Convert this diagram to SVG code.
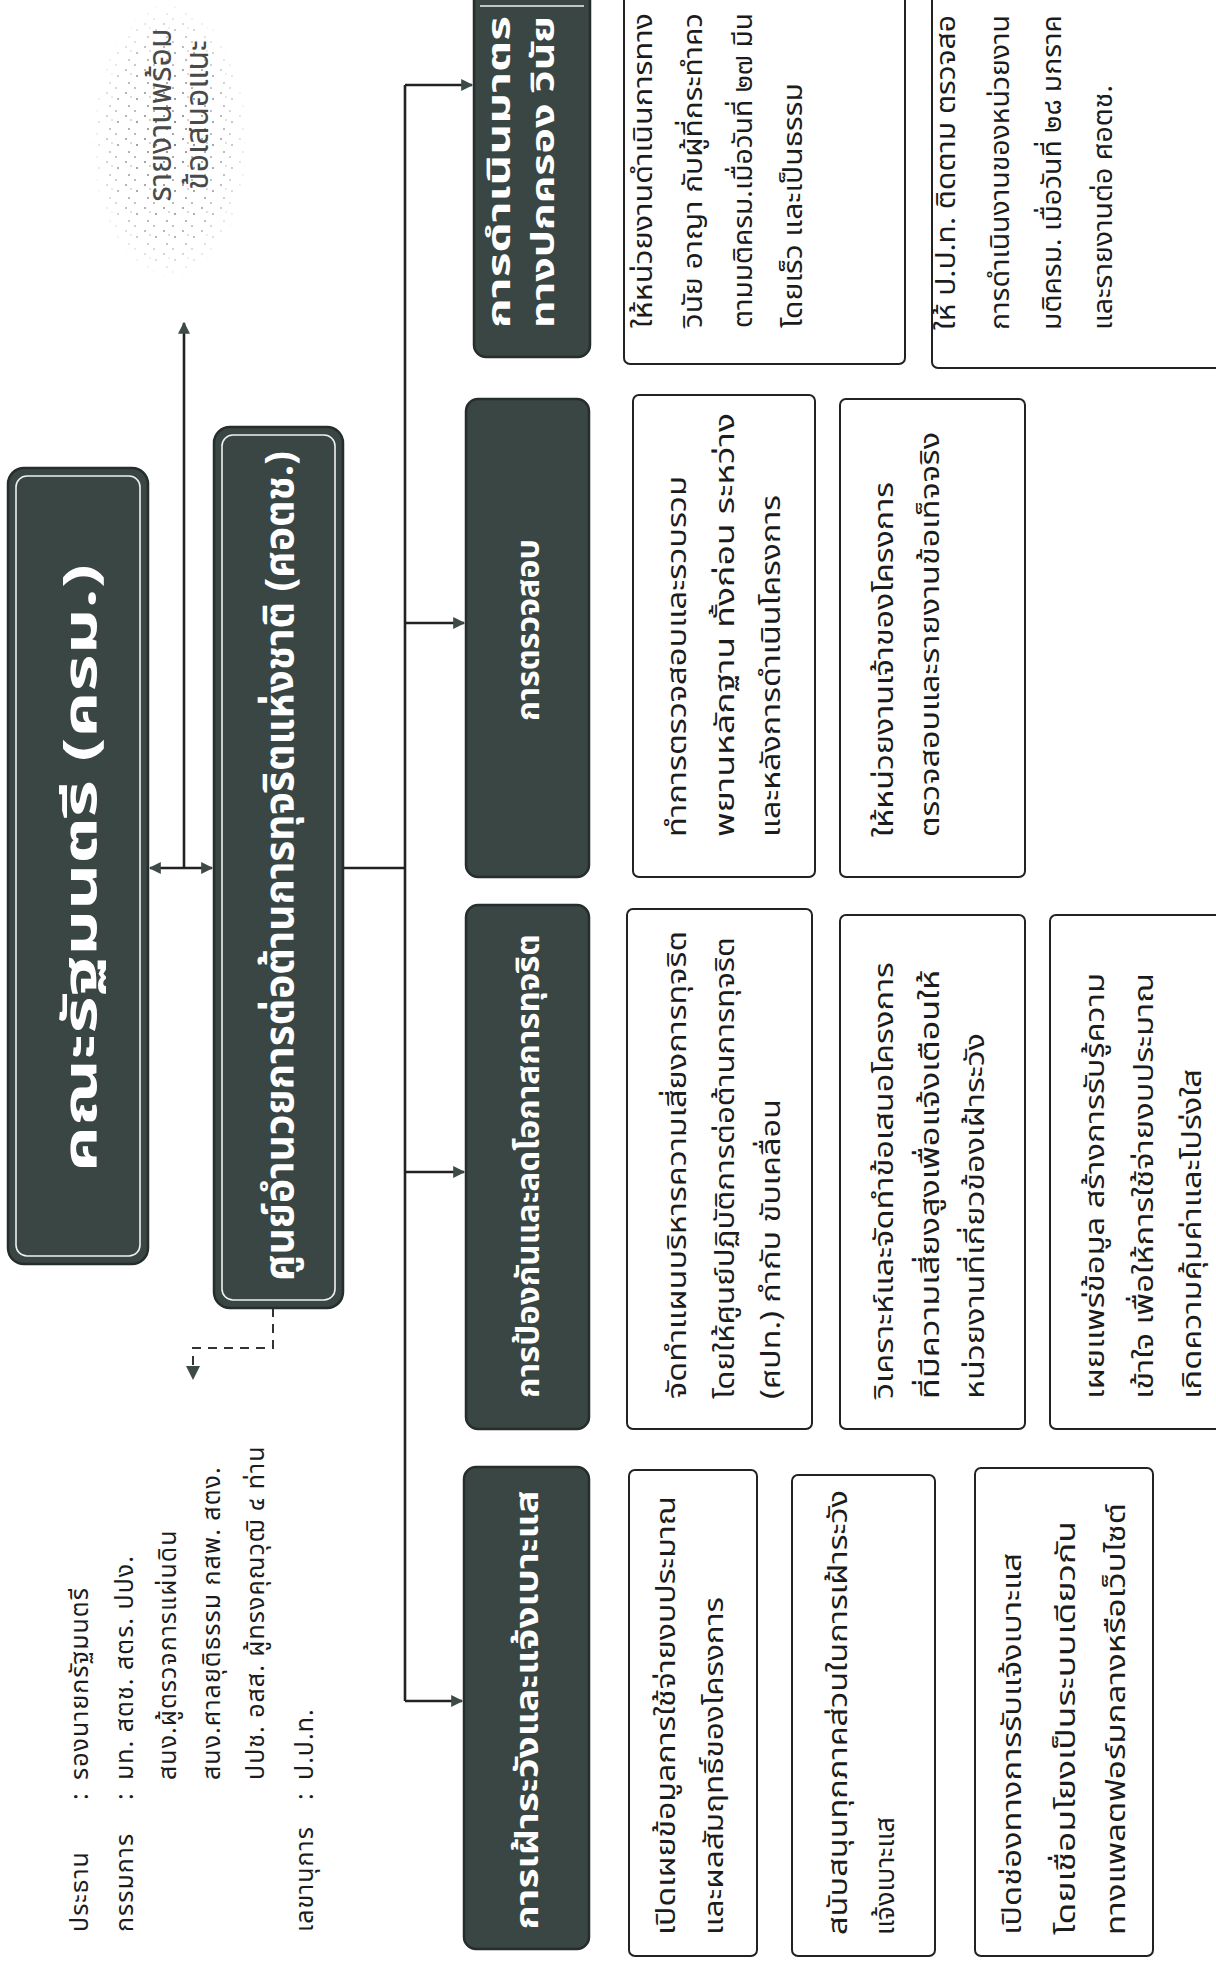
<svg xmlns="http://www.w3.org/2000/svg" width="1216" height="1965" viewBox="0 0 1216 1965">
<style>
.t{font-family:'Noto Sans Thai','Noto Sans','DejaVu Sans',sans-serif;font-size:27px;fill:#1c1c1c}
.l{font-size:25px;letter-spacing:1px}
.h{font-size:32px;font-weight:bold;fill:#ffffff}
.big{font-size:46px;font-weight:bold;fill:#ffffff}
.mid{font-size:40px;font-weight:bold;fill:#ffffff}
.sp{font-size:32px;fill:#4a4a4a}
.dark{fill:#3a4643;stroke:#252e2c;stroke-width:2.5}
.inner{fill:none;stroke:#eef2ee;stroke-width:1.6}
.wbox{fill:#ffffff;stroke:#222;stroke-width:2}
.ln{fill:none;stroke:#222;stroke-width:2.6}
.dash{fill:none;stroke:#333;stroke-width:2;stroke-dasharray:9 7}
</style>
<defs>
<marker id="ah" viewBox="0 0 10 10" refX="9" refY="5" markerWidth="14" markerHeight="12" markerUnits="userSpaceOnUse" orient="auto-start-reverse">
<path d="M0,0 L10,5 L0,10 z" fill="#3d4a47"/>
</marker>
<pattern id="dots" width="23" height="19" patternUnits="userSpaceOnUse">
<circle cx="3" cy="4" r="1.1" fill="#666"/>
<circle cx="14" cy="2" r="0.9" fill="#777"/>
<circle cx="9" cy="12" r="1" fill="#666"/>
<circle cx="19" cy="15" r="1.1" fill="#777"/>
<circle cx="5" cy="17" r="0.8" fill="#888"/>
</pattern>
<radialGradient id="fade">
<stop offset="0" stop-color="#fff" stop-opacity="1"/>
<stop offset="0.7" stop-color="#fff" stop-opacity="0.6"/>
<stop offset="1" stop-color="#fff" stop-opacity="0"/>
</radialGradient>
<mask id="cloud">
<ellipse cx="1824" cy="170" rx="140" ry="80" fill="url(#fade)"/>
</mask>
</defs>
<rect width="1216" height="1965" fill="#ffffff"/>
<g transform="translate(0,1965) rotate(-90)">

<g id="speckle">
<rect x="1680" y="88" width="285" height="165" fill="url(#dots)" mask="url(#cloud)"/>
<text class="t sp" x="1850" y="171" text-anchor="middle">รายงานพร้อม</text>
<text class="t sp" x="1850" y="208" text-anchor="middle">ข้อเสนอแนะ</text>
</g>

<g id="connectors">
<line class="ln" x1="1097" y1="150" x2="1097" y2="212" marker-start="url(#ah)" marker-end="url(#ah)"/>
<line class="ln" x1="1097" y1="184" x2="1642" y2="184" marker-end="url(#ah)"/>
<polyline class="dash" points="657,273 617,273 617,193 590,193"/>
<path d="M599,186 L585,193 L599,200 z" fill="#3d4a47"/>
<line class="ln" x1="1097" y1="343" x2="1097" y2="405"/>
<line class="ln" x1="264" y1="405" x2="1880" y2="405"/>
<line class="ln" x1="1880" y1="405" x2="1880" y2="472" marker-end="url(#ah)"/>
<line class="ln" x1="1342" y1="405" x2="1342" y2="464" marker-end="url(#ah)"/>
<line class="ln" x1="793" y1="405" x2="793" y2="464" marker-end="url(#ah)"/>
<line class="ln" x1="264" y1="405" x2="264" y2="462" marker-end="url(#ah)"/>
</g>

<g id="members">
<text class="t l" x="33" y="88">ประธาน</text>
<text class="t l" x="165" y="88">:</text>
<text class="t l" x="185" y="88">รองนายกรัฐมนตรี</text>
<text class="t l" x="33" y="133">กรรมการ</text>
<text class="t l" x="165" y="133">:</text>
<text class="t l" x="185" y="133">มท. สตช. สตร. ปปง.</text>
<text class="t l" x="185" y="176">สนง.ผู้ตรวจการแผ่นดิน</text>
<text class="t l" x="185" y="220">สนง.ศาลยุติธรรม กสพ. สตง.</text>
<text class="t l" x="185" y="264">ปปช. อสส. ผู้ทรงคุณวุฒิ ๔ ท่าน</text>
<text class="t l" x="33" y="313">เลขานุการ</text>
<text class="t l" x="165" y="313">:</text>
<text class="t l" x="185" y="313">ป.ป.ท.</text>
</g>

<g id="node-cabinet">
<rect class="dark" x="701" y="8" width="796" height="140" rx="16"/>
<rect class="inner" x="709" y="16" width="780" height="124" rx="11"/>
<text class="t big" x="1097" y="96" text-anchor="middle" textLength="608" lengthAdjust="spacingAndGlyphs">คณะรัฐมนตรี (ครม.)</text>
</g>

<g id="node-center">
<rect class="dark" x="657" y="214" width="881" height="129" rx="16"/>
<rect class="inner" x="665" y="222" width="865" height="113" rx="11"/>
<text class="t mid" x="1099" y="293" text-anchor="middle" textLength="830" lengthAdjust="spacingAndGlyphs">ศูนย์อำนวยการต่อต้านการทุจริตแห่งชาติ (ศอตช.)</text>
</g>

<g id="node-measures">
<rect class="dark" x="1608" y="474" width="380" height="116" rx="12"/>
<line x1="1959" y1="480" x2="1959" y2="584" stroke="#eef2ee" stroke-width="1.6"/>
<text class="t h" x="1637" y="510" textLength="312" lengthAdjust="spacingAndGlyphs">การดำเนินมาตร</text>
<text class="t h" x="1637" y="554" textLength="312" lengthAdjust="spacingAndGlyphs">ทางปกครอง วินัย</text>
</g>

<g id="node-inspect">
<rect class="dark" x="1088" y="466" width="478" height="123" rx="12"/>
<text class="t h" x="1335" y="539" text-anchor="middle" textLength="182" lengthAdjust="spacingAndGlyphs">การตรวจสอบ</text>
</g>

<g id="node-prevent">
<rect class="dark" x="536" y="466" width="524" height="123" rx="12"/>
<text class="t h" x="799" y="539" text-anchor="middle" textLength="464" lengthAdjust="spacingAndGlyphs">การป้องกันและลดโอกาสการทุจริต</text>
</g>

<g id="node-watch">
<rect class="dark" x="16" y="464" width="482" height="125" rx="12"/>
<text class="t h" x="255" y="538" text-anchor="middle" textLength="439" lengthAdjust="spacingAndGlyphs">การเฝ้าระวังและแจ้งเบาะแส</text>
</g>

<g id="box-a1">
<rect class="wbox" x="1601" y="624" width="380" height="281" rx="6"/>
<text class="t" x="1637" y="652" textLength="315" lengthAdjust="spacingAndGlyphs">ให้หน่วยงานดำเนินการทาง</text>
<text class="t" x="1637" y="702" textLength="315" lengthAdjust="spacingAndGlyphs">วินัย อาญา กับผู้ที่กระทำคว</text>
<text class="t" x="1637" y="752" textLength="315" lengthAdjust="spacingAndGlyphs">ตามมติครม.เมื่อวันที่ ๒๗ มีน</text>
<text class="t" x="1637" y="802" textLength="245" lengthAdjust="spacingAndGlyphs">โดยเร็ว และเป็นธรรม</text>
</g>

<g id="box-a2">
<rect class="wbox" x="1597" y="932" width="384" height="300" rx="6"/>
<text class="t" x="1635" y="955" textLength="315" lengthAdjust="spacingAndGlyphs">ให้ ป.ป.ท. ติดตาม ตรวจสอ</text>
<text class="t" x="1635" y="1009" textLength="315" lengthAdjust="spacingAndGlyphs">การดำเนินงานของหน่วยงาน</text>
<text class="t" x="1635" y="1061" textLength="315" lengthAdjust="spacingAndGlyphs">มติครม. เมื่อวันที่ ๒๘ มกราค</text>
<text class="t" x="1635" y="1112" textLength="245" lengthAdjust="spacingAndGlyphs">และรายงานต่อ ศอตช.</text>
</g>

<g id="box-b1">
<rect class="wbox" x="1088" y="633" width="482" height="182" rx="6"/>
<text class="t" x="1128" y="686" textLength="361" lengthAdjust="spacingAndGlyphs">ทำการตรวจสอบและรวบรวม</text>
<text class="t" x="1128" y="734" textLength="424" lengthAdjust="spacingAndGlyphs">พยานหลักฐาน ทั้งก่อน ระหว่าง</text>
<text class="t" x="1128" y="780" textLength="342" lengthAdjust="spacingAndGlyphs">และหลังการดำเนินโครงการ</text>
</g>

<g id="box-b2">
<rect class="wbox" x="1088" y="840" width="478" height="185" rx="6"/>
<text class="t" x="1128" y="893" textLength="355" lengthAdjust="spacingAndGlyphs">ให้หน่วยงานเจ้าของโครงการ</text>
<text class="t" x="1128" y="939" textLength="405" lengthAdjust="spacingAndGlyphs">ตรวจสอบและรายงานข้อเท็จจริง</text>
</g>

<g id="box-c1">
<rect class="wbox" x="536" y="627" width="520" height="185" rx="6"/>
<text class="t" x="566" y="686" textLength="468" lengthAdjust="spacingAndGlyphs">จัดทำแผนบริหารความเสี่ยงการทุจริต</text>
<text class="t" x="566" y="734" textLength="462" lengthAdjust="spacingAndGlyphs">โดยให้ศูนย์ปฏิบัติการต่อต้านการทุจริต</text>
<text class="t" x="566" y="780" textLength="300" lengthAdjust="spacingAndGlyphs">(ศปท.) กำกับ ขับเคลื่อน</text>
</g>

<g id="box-c2">
<rect class="wbox" x="536" y="840" width="514" height="185" rx="6"/>
<text class="t" x="566" y="893" textLength="437" lengthAdjust="spacingAndGlyphs">วิเคราะห์และจัดทำข้อเสนอโครงการ</text>
<text class="t" x="566" y="939" textLength="429" lengthAdjust="spacingAndGlyphs">ที่มีความเสี่ยงสูงเพื่อแจ้งเตือนให้</text>
<text class="t" x="566" y="984" textLength="366" lengthAdjust="spacingAndGlyphs">หน่วยงานที่เกี่ยวข้องเฝ้าระวัง</text>
</g>

<g id="box-c3">
<rect class="wbox" x="536" y="1050" width="514" height="190" rx="6"/>
<text class="t" x="566" y="1104" textLength="426" lengthAdjust="spacingAndGlyphs">เผยแพร่ข้อมูล สร้างการรับรู้ความ</text>
<text class="t" x="566" y="1153" textLength="426" lengthAdjust="spacingAndGlyphs">เข้าใจ เพื่อให้การใช้จ่ายงบประมาณ</text>
<text class="t" x="566" y="1201" textLength="330" lengthAdjust="spacingAndGlyphs">เกิดความคุ้มค่าและโปร่งใส</text>
</g>

<g id="box-d1">
<rect class="wbox" x="9" y="629" width="486" height="128" rx="6"/>
<text class="t" x="30" y="675" textLength="439" lengthAdjust="spacingAndGlyphs">เปิดเผยข้อมูลการใช้จ่ายงบประมาณ</text>
<text class="t" x="30" y="723" textLength="338" lengthAdjust="spacingAndGlyphs">และผลสัมฤทธิ์ของโครงการ</text>
</g>

<g id="box-d2">
<rect class="wbox" x="9" y="792" width="481" height="143" rx="6"/>
<text class="t" x="30" y="847" textLength="445" lengthAdjust="spacingAndGlyphs">สนับสนุนทุกภาคส่วนในการเฝ้าระวัง</text>
<text class="t" x="30" y="894">แจ้งเบาะแส</text>
</g>

<g id="box-d3">
<rect class="wbox" x="9" y="975" width="488" height="178" rx="6"/>
<text class="t" x="30" y="1021" textLength="382" lengthAdjust="spacingAndGlyphs">เปิดช่องทางการรับแจ้งเบาะแส</text>
<text class="t" x="30" y="1075" textLength="414" lengthAdjust="spacingAndGlyphs">โดยเชื่อมโยงเป็นระบบเดียวกัน</text>
<text class="t" x="30" y="1125" textLength="432" lengthAdjust="spacingAndGlyphs">ทางแพลตฟอร์มกลางหรือเว็บไซต์</text>
</g>

</g>
</svg>
